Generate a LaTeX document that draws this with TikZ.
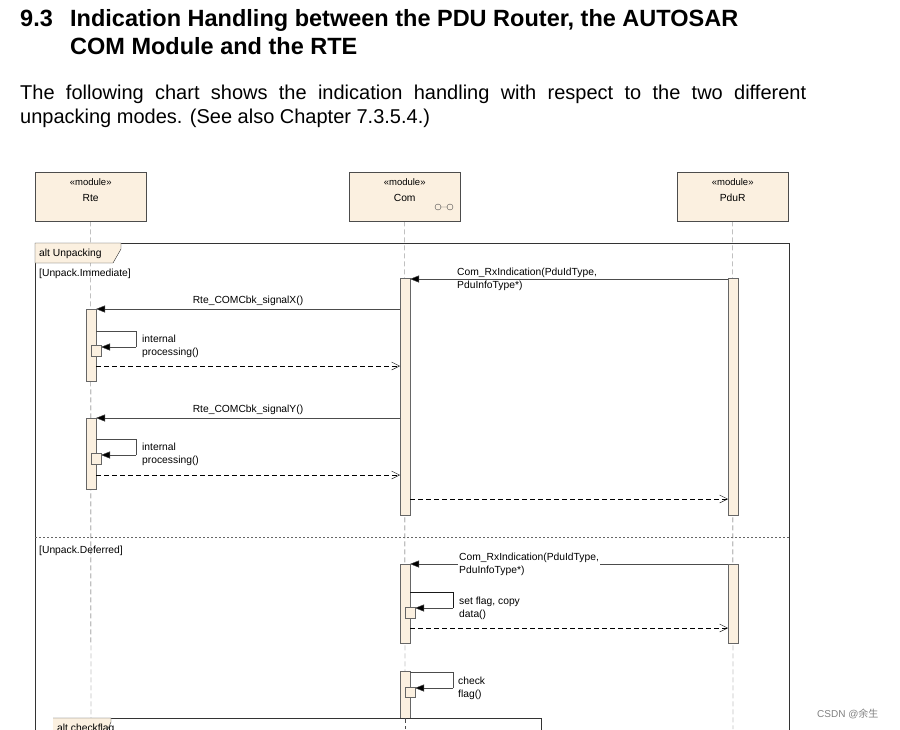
\documentclass[tikz,border=0pt]{standalone}
\usepackage{fontspec}
\setmainfont{Liberation Sans}
\newfontfamily\cjk{Noto Sans CJK SC}
\usetikzlibrary{arrows.meta}
\definecolor{beige}{HTML}{FBF0E0}
\tikzset{
 mod/.style={draw=black!70,fill=beige,minimum width=111pt,minimum height=49pt,inner sep=0pt},
 act/.style={draw=black!60,fill=beige},
 life/.style={black!70,dash pattern=on 5pt off 3pt},
 msg/.style={black!70,-{Triangle[length=9pt,width=7pt,fill=black]}},
 ret/.style={black,dash pattern=on 5pt off 3pt,-{Straight Barb[length=8pt,width=8pt]}},
 sm/.style={font=\fontsize{10.3}{12}\selectfont,inner sep=0pt,anchor=west,align=left},
}
\begin{document}
\begin{tikzpicture}[x=1pt,y=-1pt]
\clip (0,0) rectangle (900,729);
\useasboundingbox (0,0) rectangle (900,729);
\node[anchor=base west,font=\bfseries\fontsize{23.5}{28}\selectfont,inner sep=0] (t1) at (20,26) {9.3};
\node[anchor=base west,font=\bfseries\fontsize{23.5}{28}\selectfont,inner sep=0,align=left] (t2) at (70,26) {Indication Handling between the PDU Router, the AUTOSAR};
\node[anchor=base west,font=\bfseries\fontsize{23.5}{28}\selectfont,inner sep=0] (t3) at (70,54) {COM Module and the RTE};
\node[anchor=base west,font=\fontsize{20}{24}\selectfont,inner sep=0] (p1) at (20,99) {\makebox[786pt][s]{The following chart shows the indication handling with respect to the two different}};
\node[anchor=base west,font=\fontsize{20}{24}\selectfont,inner sep=0] (p2) at (20,123) {unpacking modes. (See also Chapter 7.3.5.4.)};
% modules
\node[mod,anchor=north west] (rte) at (35,172) {};
\node[mod,anchor=north west] (com) at (349,172) {};
\node[mod,anchor=north west] (pdur) at (677,172) {};
\foreach \n/\t in {rte/Rte,com/Com,pdur/PduR}{
 \node[font=\fontsize{9.5}{11}\selectfont,inner sep=0] (\n s) at ([yshift=-10pt]\n.north) {«module»};
 \node[font=\fontsize{10.3}{12}\selectfont,inner sep=0] (\n t) at ([yshift=-26pt]\n.north) {\t};
}
\draw[black!70] (438,207) circle (3pt) (441,207)--(447,207) (450,207) circle (3pt);
% lifelines
\draw[life] (rte.south) -- (91,729);
\draw[life] (com.south) -- (405,729);
\draw[life] (pdur.south) -- (733,729);
% outer frame
\draw[black!80,thick] (35,243) -- (789,243) -- (789,735) (35,735) -- (35,243);
\draw[black!80,fill=beige] (35,243) -- (121,243) -- (121,249) -- (113,263) -- (35,263) -- cycle;
\node[sm] (alt1) at (39,253.5) {alt Unpacking};
\node[sm] (g1) at (39,273.5) {[Unpack.Immediate]};
\draw[black!60,dash pattern=on 2pt off 2pt] (35,537) -- (789,537);
\node[sm] (g2) at (39,550.5) {[Unpack.Deferred]};
% activations
\draw[act] (400,278) rectangle (410,515);
\draw[act] (728,278) rectangle (738,515);
\draw[act] (86,309) rectangle (96,381);
\draw[act] (86,418) rectangle (96,489);
\draw[act] (400,564) rectangle (410,643);
\draw[act] (728,564) rectangle (738,643);
\draw[act] (400,671) rectangle (410,735);
% messages immediate
\draw[msg] (728,279) -- (410,279);
\node[sm] (m1) at (457,279) {Com\_RxIndication(PduIdType,\\[1pt]PduInfoType*)};
\draw[msg] (400,309) -- (96,309);
\node[font=\fontsize{10.3}{12}\selectfont,inner sep=0] (m2) at (248,301) {Rte\_COMCbk\_signalX()};
\draw[black!70] (96,331) -- (136,331) -- (136,347);
\draw[msg] (136,347) -- (101,347);
\draw[act] (91,345) rectangle (101,356);
\node[sm] (m3) at (142,346) {internal\\[1pt]processing()};
\draw[ret] (96,366) -- (400,366);
\draw[msg] (400,418) -- (96,418);
\node[font=\fontsize{10.3}{12}\selectfont,inner sep=0] (m4) at (248,410) {Rte\_COMCbk\_signalY()};
\draw[black!70] (96,439) -- (136,439) -- (136,455);
\draw[msg] (136,455) -- (101,455);
\draw[act] (91,453) rectangle (101,464);
\node[sm] (m5) at (142,454) {internal\\[1pt]processing()};
\draw[ret] (96,475) -- (400,475);
\draw[ret] (410,499) -- (728,499);
% deferred
\draw[msg] (728,564) -- (410,564);
\node[sm,fill=white,inner sep=1pt] (m6) at (458,564) {Com\_RxIndication(PduIdType,\\[1pt]PduInfoType*)};
\draw[black!90] (410,592) -- (453,592) -- (453,608);
\draw[msg] (453,608) -- (415,608);
\draw[act] (405,607) rectangle (415,618);
\node[sm] (m7) at (459,608) {set flag, copy\\[1pt]data()};
\draw[ret] (410,628) -- (728,628);
\draw[black!70] (410,672) -- (453,672) -- (453,688);
\draw[msg] (453,688) -- (415,688);
\draw[act] (405,687) rectangle (415,697);
\node[sm] (m8) at (458,688) {check\\[1pt]flag()};
% inner frame
\draw[black!80,fill=white] (53,740) -- (53,718) -- (541,718) -- (541,740);
\draw[black!80,fill=beige] (53,718) -- (111,718) -- (111,722) -- (104,738) -- (53,738);
\node[sm,anchor=north west] (alt2) at (57,724) {alt checkflag};
\draw[life] (405,718) -- (405,729);
\node[anchor=west,font=\fontsize{10}{12}\selectfont,text=black!50,inner sep=0] (wm) at (817,714) {CSDN @{\cjk 余生}};
\end{tikzpicture}
\end{document}
